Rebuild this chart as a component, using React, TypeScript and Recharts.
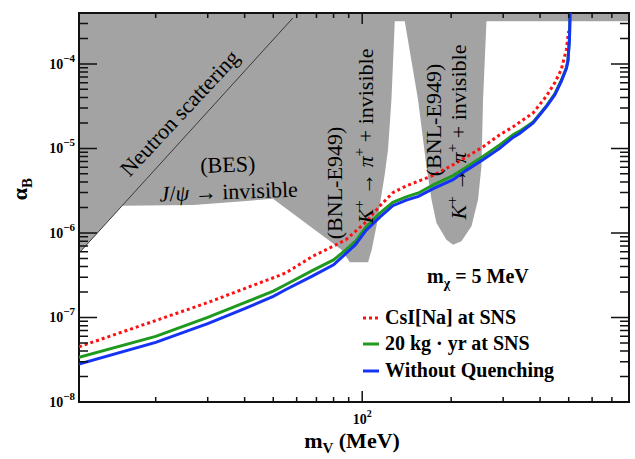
import React from "react";
import { ComposedChart, Area, Line, XAxis, YAxis, ReferenceArea } from "recharts";

// mass grid (MeV) shared by the three sensitivity curves
const massGrid = [11, 20, 30, 40, 50, 55, 68, 80, 88, 95, 103, 115, 127, 141, 155, 174, 203, 225, 257, 292, 324, 341, 379, 421, 449, 472, 491, 497, 500, 503, 506];
const csiNa = [4.5e-8, 9.2e-8, 1.5e-7, 2.2e-7, 2.95e-7, 3.35e-7, 5.3e-7, 7.0e-7, 8.3e-7, 1.05e-6, 1.35e-6, 2.1e-6, 3.0e-6, 3.6e-6, 4.1e-6, 4.8e-6, 6.4e-6, 7.9e-6, 1.05e-5, 1.45e-5, 1.8e-5, 2.04e-5, 2.63e-5, 4.2e-5, 6.0e-5, 8.6e-5, 1.48e-4, 2.1e-4, 2.45e-4, null, null];
const twentyKgYr = [3.37e-8, 5.97e-8, 1.0e-7, 1.5e-7, 2.05e-7, 2.44e-7, 3.6e-7, 4.8e-7, 6.3e-7, 8.0e-7, 1.18e-6, 1.73e-6, 2.3e-6, 2.67e-6, 2.97e-6, 3.7e-6, 4.77e-6, 6.0e-6, 8.07e-6, 1.1e-5, 1.45e-5, 1.6e-5, 2.05e-5, 3.2e-5, 4.45e-5, 6.4e-5, 9.0e-5, 1.1e-4, 1.5e-4, 2.0e-4, 5e-4];
const noQuenching = [2.82e-8, 5.07e-8, 8.45e-8, 1.27e-7, 1.78e-7, 2.13e-7, 3.1e-7, 4.2e-7, 5.7e-7, 7.3e-7, 1.07e-6, 1.55e-6, 2.1e-6, 2.45e-6, 2.71e-6, 3.35e-6, 4.27e-6, 5.5e-6, 7.4e-6, 1.0e-5, 1.35e-5, 1.5e-5, 2.0e-5, 3.15e-5, 4.33e-5, 6.22e-5, 8.8e-5, 1.07e-4, 1.45e-4, 1.94e-4, 5e-4];

// lower edge of the excluded (gray) region, filled up to the top of the frame
const grayMass = [11, 15.4, 26.8, 49.9, 85.1, 90.8, 104.7, 107.7, 112, 115.5, 119.2, 122.3, 125.6, 128.9, 139.3, 154.5, 165, 171.6, 178.4, 192.8, 203, 216.7, 234.4, 246.7, 253.3, 256.5, 263.4, 800];
const grayLow = [5.77e-7, 2.1e-6, 2.14e-6, 2.53e-6, 6.34e-7, 4.5e-7, 4.5e-7, 6.34e-7, 1.25e-6, 2.48e-6, 4.9e-6, 9.68e-6, 3.78e-5, 3.2e-4, 3.2e-4, 3.78e-5, 6.14e-6, 2.48e-6, 1.31e-6, 8.33e-7, 7.27e-7, 7.96e-7, 1.2e-6, 2.48e-6, 6.14e-6, 3.78e-5, 3.2e-4, 3.2e-4];

// neutron scattering bound (thin line)
const neutronMass = [11, 58.3];
const neutronAlpha = [5.77e-7, 3.5e-4];

const xMajorTicks = [100];
const xMinorTicks = [20, 30, 40, 50, 60, 70, 80, 90, 200, 300, 400, 500, 600, 700];
const yMajorTicks = [1e-8, 1e-7, 1e-6, 1e-5, 1e-4];
const yMinorTicks = [
  2e-8, 3e-8, 4e-8, 5e-8, 6e-8, 7e-8, 8e-8, 9e-8,
  2e-7, 3e-7, 4e-7, 5e-7, 6e-7, 7e-7, 8e-7, 9e-7,
  2e-6, 3e-6, 4e-6, 5e-6, 6e-6, 7e-6, 8e-6, 9e-6,
  2e-5, 3e-5, 4e-5, 5e-5, 6e-5, 7e-5, 8e-5, 9e-5,
  2e-4, 3e-4,
];

const X_DOMAIN = [11, 800];
const Y_DOMAIN = [1e-8, 4e-4];

const curveData = massGrid.map((m, i) => ({ m, csi: csiNa[i], kg: twentyKgYr[i], nq: noQuenching[i] }));
const grayData = grayMass.map((m, i) => ({ m, low: grayLow[i] }));
const neutronData = neutronMass.map((m, i) => ({ m, a: neutronAlpha[i] }));

const W = 635;
const H = 459;
const MARGIN = { top: 13, right: 6, bottom: 0, left: 0 };
const X_AXIS_H = 57;
const Y_AXIS_W = 79;
// plot rectangle implied by the margins and axis sizes above
const PLOT = {
  left: MARGIN.left + Y_AXIS_W,
  right: W - MARGIN.right,
  top: MARGIN.top,
  bottom: H - MARGIN.bottom - X_AXIS_H,
};
const FONT = '"Liberation Serif", "Times New Roman", serif';
const RED = "#ff1010";
const GREEN = "#1f9a1f";
const BLUE = "#1433f5";
const GRAY = "#a3a3a3";

const expOf = (v: number) => Math.round(Math.log10(v));
const logFrac = (v: number, d: number[]) => (Math.log10(v) - Math.log10(d[0])) / (Math.log10(d[1]) - Math.log10(d[0]));
const px = (m: number) => PLOT.left + (PLOT.right - PLOT.left) * logFrac(m, X_DOMAIN);
const py = (a: number) => PLOT.bottom - (PLOT.bottom - PLOT.top) * logFrac(a, Y_DOMAIN);

const XLabel = ({ x, y, payload }: any) => (
  <text x={x} y={Number(y) + 22} textAnchor="middle" fontFamily={FONT} fontWeight="bold" fontSize={14} fill="#000">
    10<tspan dy={-7} fontSize={10}>{expOf(payload.value)}</tspan>
  </text>
);

const YLabel = ({ x, y, payload }: any) => (
  <text x={Number(x) - 4} y={Number(y) + 5} textAnchor="end" fontFamily={FONT} fontWeight="bold" fontSize={14} fill="#000">
    10<tspan dy={-7} fontSize={11}>{"\u2212" + Math.abs(expOf(payload.value))}</tspan>
  </text>
);

// inward tick marks on all four sides of the frame (ROOT style)
const TickMarks = () => {
  const segs: string[] = [];
  const xt = [...xMinorTicks.map((v) => [v, 5]), ...xMajorTicks.map((v) => [v, 11])];
  const yt = [...yMinorTicks.map((v) => [v, 9]), ...yMajorTicks.map((v) => [v, 18])];
  xt.forEach(([v, len]) => {
    const x = px(v);
    segs.push(`M${x},${PLOT.bottom}v${-len}`, `M${x},${PLOT.top}v${len}`);
  });
  yt.forEach(([v, len]) => {
    const y = py(v);
    segs.push(`M${PLOT.left},${y}h${len}`, `M${PLOT.right},${y}h${-len}`);
  });
  return <path d={segs.join("")} stroke="#111" strokeWidth={1.5} fill="none" />;
};

const KText = ({ x, y }: { x: number; y: number }) => (
  <text transform={`translate(${x},${y}) rotate(-90)`} textAnchor="middle" fontSize={22}>
    <tspan fontStyle="italic">K</tspan>
    <tspan dy={-9} fontSize={15}>+</tspan>
    <tspan dy={9}>{" \u2192 "}</tspan>
    <tspan fontStyle="italic">π</tspan>
    <tspan dy={-9} fontSize={15}>+</tspan>
    <tspan dy={9}>{" + invisible"}</tspan>
  </text>
);

const Annotations = () => (
  <svg width={W} height={H} style={{ position: "absolute", left: 0, top: 0, pointerEvents: "none" }} fontFamily={FONT}>
    <TickMarks />
    <text transform="translate(185,118) rotate(-47)" textAnchor="middle" fontSize={22}>Neutron scattering</text>
    <text transform="translate(228,172) rotate(-2)" textAnchor="middle" fontSize={22}>(BES)</text>
    <text transform="translate(229,199) rotate(-2)" textAnchor="middle" fontSize={22}>
      <tspan fontStyle="italic">J</tspan>/<tspan fontStyle="italic">ψ</tspan>{" \u2192 invisible"}
    </text>

    <text transform="translate(342,183) rotate(-90)" textAnchor="middle" fontSize={22}>(BNL-E949)</text>
    <KText x={373} y={136} />
    <text transform="translate(441,120) rotate(-90)" textAnchor="middle" fontSize={22}>(BNL-E949)</text>
    <KText x={466} y={132} />

    <text x={427} y={283} fontWeight="bold" fontSize={20}>
      m<tspan dy={5} fontSize={14}>χ</tspan><tspan dy={-5}>{" = 5 MeV"}</tspan>
    </text>

    <line x1={363} x2={379} y1={318} y2={318} stroke={RED} strokeWidth={3} strokeDasharray="3 3" />
    <text x={385} y={324} fontWeight="bold" fontSize={20}>CsI[Na] at SNS</text>
    <line x1={363} x2={379} y1={344} y2={344} stroke={GREEN} strokeWidth={3} />
    <text x={385} y={350} fontWeight="bold" fontSize={20}>{"20 kg \u00b7  yr at SNS"}</text>
    <line x1={363} x2={379} y1={371} y2={371} stroke={BLUE} strokeWidth={3} />
    <text x={385} y={377} fontWeight="bold" fontSize={20}>Without Quenching</text>

    <text x={352} y={448} textAnchor="middle" fontWeight="bold" fontSize={22}>
      m<tspan dy={5} fontSize={15}>V</tspan><tspan dy={-5}>{" (MeV)"}</tspan>
    </text>
    <text transform="translate(27,189) rotate(-90)" textAnchor="middle" fontWeight="bold" fontSize={22}>
      α<tspan dy={5} fontSize={15}>B</tspan>
    </text>
  </svg>
);

export default function App() {
  return (
    <div style={{ position: "absolute", left: 0, top: 0, width: W, height: H, background: "#fff" }}>
      <ComposedChart width={W} height={H} margin={MARGIN}>
        <XAxis dataKey="m" type="number" scale="log" domain={X_DOMAIN} allowDataOverflow interval={0}
          ticks={xMajorTicks} height={X_AXIS_H} tickSize={0} tickMargin={0} tickLine={false} axisLine={false} tick={<XLabel />} />
        <YAxis type="number" scale="log" domain={Y_DOMAIN} allowDataOverflow interval={0}
          ticks={yMajorTicks} width={Y_AXIS_W} tickSize={0} tickMargin={0} tickLine={false} axisLine={false} tick={<YLabel />} />

        <Area data={grayData} dataKey="low" type="linear" baseValue="dataMax" fill={GRAY} fillOpacity={1} stroke="none" isAnimationActive={false} />
        <Line data={neutronData} dataKey="a" type="linear" stroke="#3a3a3a" strokeWidth={1} dot={false} isAnimationActive={false} />

        <Line data={curveData} dataKey="csi" type="linear" stroke={RED} strokeWidth={3} strokeDasharray="3 3" dot={false} isAnimationActive={false} />
        <Line data={curveData} dataKey="kg" type="linear" stroke={GREEN} strokeWidth={3} dot={false} isAnimationActive={false} />
        <Line data={curveData} dataKey="nq" type="linear" stroke={BLUE} strokeWidth={3} dot={false} isAnimationActive={false} />

        <ReferenceArea x1={X_DOMAIN[0]} x2={X_DOMAIN[1]} y1={Y_DOMAIN[0]} y2={Y_DOMAIN[1]} fill="none" fillOpacity={0}
          stroke="#111" strokeWidth={2} ifOverflow="visible" />
      </ComposedChart>
      <Annotations />
    </div>
  );
}
